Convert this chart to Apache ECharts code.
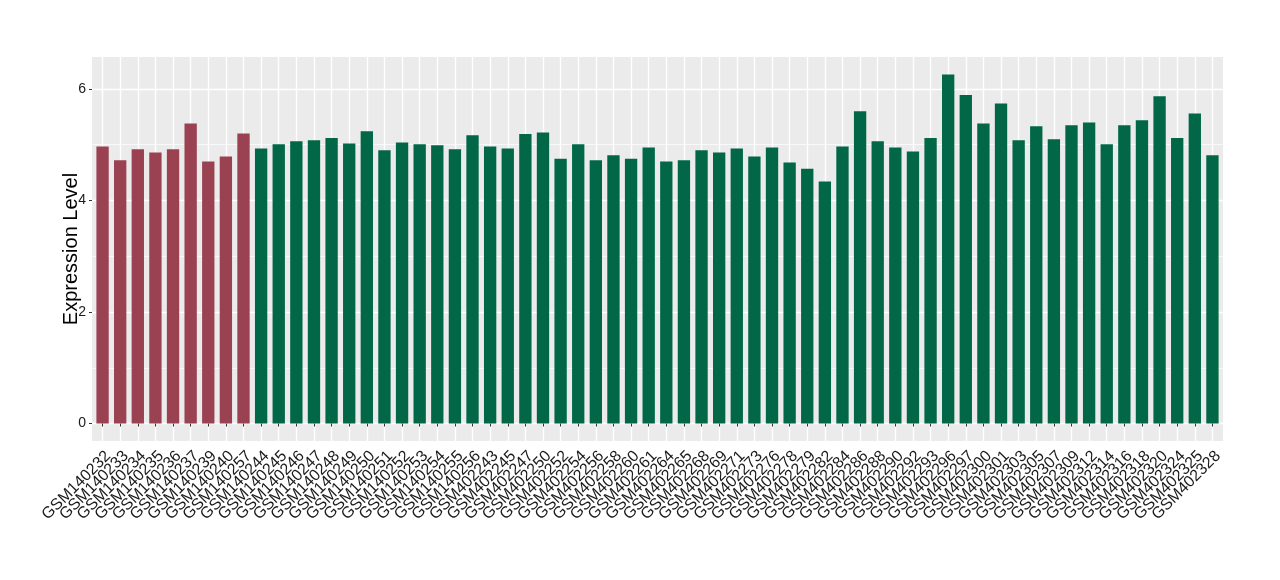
<!DOCTYPE html>
<html>
<head>
<meta charset="utf-8">
<script src="https://cdn.jsdelivr.net/npm/echarts@6/dist/echarts.min.js"></script>
<style>
  html, body { margin: 0; padding: 0; background: #fff; }
  #chart { width: 1280px; height: 580px; }
</style>
</head>
<body>
<div id="chart"></div>
<script>
// samples in the first group (red) and the second group (green)
const samplesA = ['GSM140232', 'GSM140233', 'GSM140234', 'GSM140235', 'GSM140236',
  'GSM140237', 'GSM140239', 'GSM140240', 'GSM140257']
const valuesA = [4.97, 4.72, 4.92, 4.86, 4.92, 5.38, 4.70, 4.79, 5.20]

const samplesB = ['GSM140244', 'GSM140245', 'GSM140246', 'GSM140247', 'GSM140248',
  'GSM140249', 'GSM140250', 'GSM140251', 'GSM140252', 'GSM140253', 'GSM140254',
  'GSM140255', 'GSM140256',
  'GSM402243', 'GSM402245', 'GSM402247', 'GSM402250', 'GSM402252', 'GSM402254',
  'GSM402256', 'GSM402258', 'GSM402260', 'GSM402261', 'GSM402264', 'GSM402265',
  'GSM402268', 'GSM402269', 'GSM402271', 'GSM402273', 'GSM402276', 'GSM402278',
  'GSM402279', 'GSM402282', 'GSM402284', 'GSM402286', 'GSM402288', 'GSM402290',
  'GSM402292', 'GSM402293', 'GSM402296', 'GSM402297', 'GSM402300', 'GSM402301',
  'GSM402303', 'GSM402305', 'GSM402307', 'GSM402309', 'GSM402312', 'GSM402314',
  'GSM402316', 'GSM402318', 'GSM402320', 'GSM402324', 'GSM402325', 'GSM402328']
const valuesB = [4.93, 5.01, 5.06, 5.08, 5.12, 5.02, 5.24, 4.90, 5.04, 5.01, 4.99,
  4.92, 5.17,
  4.97, 4.93, 5.19, 5.22, 4.75, 5.01, 4.72, 4.81, 4.75, 4.95, 4.70, 4.72,
  4.90, 4.86, 4.93, 4.79, 4.95, 4.68, 4.57, 4.34, 4.97, 5.60, 5.06, 4.95,
  4.88, 5.12, 6.26, 5.89, 5.38, 5.74, 5.08, 5.33, 5.10, 5.35, 5.40, 5.01,
  5.35, 5.44, 5.87, 5.12, 5.56, 4.81]

const yMajor = [0, 2, 4, 6]
const yMinor = [1, 3, 5]

const samples = samplesA.concat(samplesB)
const values = valuesA.concat(valuesB)
const positions = samples.map((_, i) => i + 1)

const RED = '#9A4251'
const GREEN = '#016747'
const FONT = '"Liberation Sans", Arial, sans-serif'

// panel box, px
const L = 92, R = 57, T = 57, B = 139
// ggplot style padding: 5% on the value axis, 0.6 units on the discrete axis
const xExpand = 0.6
const yPad = Math.max(...values) * 0.05
const yMin = -yPad
const yMax = Math.max(...values) + yPad
// the label axis is a plain category axis inside a second, invisible grid
// whose bands line up with the bar positions of the main grid
const unit = (1280 - L - R) / (samples.length - 1 + 2 * xExpand)
const inset = (xExpand - 0.5) * unit

const chart = echarts.init(document.getElementById('chart'), null, { renderer: 'canvas' })

chart.setOption({
  animation: false,
  backgroundColor: '#fff',
  grid: [
    {
      left: L, right: R, top: T, bottom: B,
      show: true, backgroundColor: '#EBEBEB', borderWidth: 0,
      outerBoundsMode: 'none',
    },
    {
      left: L + inset, right: R + inset, top: T, bottom: B,
      show: false, outerBoundsMode: 'none',
    },
  ],
  xAxis: [
    {
      type: 'value',
      gridIndex: 0,
      min: 1 - xExpand,
      max: samples.length + xExpand,
      axisLine: { show: false },
      axisTick: {
        show: true, length: 3, customValues: positions,
        lineStyle: { color: '#333', width: 1 },
      },
      axisLabel: { show: false, customValues: positions },
      splitLine: { show: true, lineStyle: { color: '#fff', width: 1.4 } },
    },
    {
      type: 'category',
      gridIndex: 1,
      data: samples,
      boundaryGap: true,
      axisLine: { show: false },
      axisTick: { show: false },
      splitLine: { show: false },
      axisLabel: {
        interval: 0,
        rotate: 45,
        align: 'right',
        verticalAlign: 'top',
        margin: 7,
        color: '#1A1A1A',
        fontFamily: FONT,
        fontSize: 16,
      },
    },
  ],
  yAxis: [
    {
      type: 'value',
      gridIndex: 0,
      min: yMin,
      max: yMax,
      name: 'Expression Level',
      nameLocation: 'middle',
      nameGap: 11,
      nameMoveOverlap: false,
      nameTextStyle: { color: '#000', fontFamily: FONT, fontSize: 20 },
      axisLine: { show: false },
      axisTick: {
        show: true, length: 3, customValues: yMajor,
        lineStyle: { color: '#333', width: 1 },
      },
      axisLabel: {
        customValues: yMajor,
        margin: 6,
        color: '#1A1A1A',
        fontFamily: FONT,
        fontSize: 14,
      },
      splitLine: { show: true, lineStyle: { color: '#fff', width: 1.4 } },
    },
    {
      // minor grid lines only
      type: 'value',
      gridIndex: 0,
      min: yMin,
      max: yMax,
      position: 'left',
      axisLine: { show: false },
      axisTick: { show: false, customValues: yMinor },
      axisLabel: { show: false, customValues: yMinor },
      splitLine: { show: true, lineStyle: { color: '#fff', width: 0.7 } },
    },
    {
      type: 'value',
      gridIndex: 1,
      show: false,
    },
  ],
  series: [
    {
      type: 'bar',
      xAxisIndex: 0,
      yAxisIndex: 0,
      barWidth: '70%',
      data: values.map((v, i) => ({
        value: [positions[i], v],
        itemStyle: { color: i < samplesA.length ? RED : GREEN },
      })),
    },
  ],
})
</script>
</body>
</html>
